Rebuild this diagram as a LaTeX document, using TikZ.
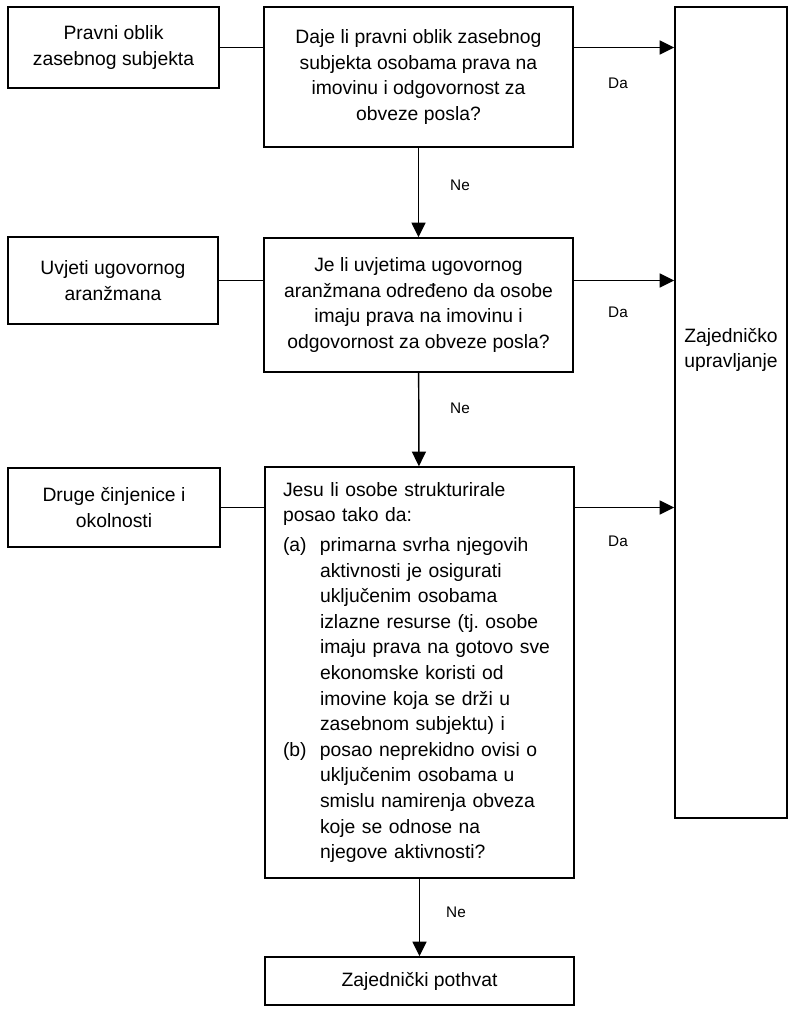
\documentclass[tikz,border=0pt]{standalone}
\usepackage{fontspec}
\setmainfont{Liberation Sans}
\usetikzlibrary{arrows.meta}
\newlength\hang
\setlength\hang{27.75pt}
\begin{document}
\begin{tikzpicture}[x=0.75pt, y=-0.75pt, >={Triangle[length=11pt,width=10.5pt]}, line width=1.1pt,
	box/.style={draw, align=center, inner sep=0pt, font=\fontsize{14.5}{19.2}\selectfont},
	lab/.style={font=\fontsize{11.5}{14}\selectfont}]
	\useasboundingbox (0,0) rectangle (796,1016);
	
	% ulazni okviri (lijevo)
	\node[box, minimum width=158.25pt, minimum height=60.75pt] (L1) at (113.5,47.5) {Pravni oblik\\zasebnog subjekta};
	\node[box, minimum width=157.5pt, minimum height=65.25pt] (L2) at (113,280.5) {Uvjeti ugovornog\\aranžmana};
	\node[box, minimum width=159pt, minimum height=59.25pt] (L3) at (114,507.5) {Druge činjenice i\\okolnosti};
	
	% pitanja (sredina)
	\node[box, minimum width=231.75pt, minimum height=105pt] (Q1) at (418.5,77) {Daje li pravni oblik zasebnog\\subjekta osobama prava na\\imovinu i odgovornost za\\obveze posla?};
	\node[box, minimum width=231.75pt, minimum height=100.5pt] (Q2) at (418.5,305) {Je li uvjetima ugovornog\\aranžmana određeno da osobe\\imaju prava na imovinu i\\odgovornost za obveze posla?};
	\node[box, align=left, inner xsep=13.5pt, text width=204.75pt, minimum height=308.25pt] (Q3) at (419.5,672.5) {Jesu li osobe strukturirale\\posao tako da:\\[3pt]
		\makebox[\hang][l]{(a)}primarna svrha njegovih\\
		\hspace*{\hang}aktivnosti je osigurati\\
		\hspace*{\hang}uključenim osobama\\
		\hspace*{\hang}izlazne resurse (tj.\ osobe\\
		\hspace*{\hang}imaju prava na gotovo sve\\
		\hspace*{\hang}ekonomske koristi od\\
		\hspace*{\hang}imovine koja se drži u\\
		\hspace*{\hang}zasebnom subjektu) i\\
		\makebox[\hang][l]{(b)}posao neprekidno ovisi o\\
		\hspace*{\hang}uključenim osobama u\\
		\hspace*{\hang}smislu namirenja obveza\\
		\hspace*{\hang}koje se odnose na\\
		\hspace*{\hang}njegove aktivnosti?};
	
	% ishodi
	\node[box, minimum width=231.75pt, minimum height=36pt] (B) at (419.5,981) {Zajednički pothvat};
	\node[box, minimum width=84pt, minimum height=608.25pt] (R) at (731,412.5) {};
	\node[box, draw=none] (Rtxt) at (731,350) {Zajedničko\\upravljanje};
	
	% veze lijevo
	\draw (L1.east) -- (L1.east -| Q1.west);
	\draw (L2.east) -- (L2.east -| Q2.west);
	\draw (L3.east) -- (L3.east -| Q3.west);
	
	% Da
	\draw[->] (L1.east -| Q1.east) -- (L1.east -| R.west);
	\draw[->] (L2.east -| Q2.east) -- (L2.east -| R.west);
	\draw[->] (L3.east -| Q3.east) -- (L3.east -| R.west);
	\node[lab] (da1) at (618,83) {Da};
	\node[lab] (da2) at (618,312) {Da};
	\node[lab] (da3) at (618,541) {Da};
	
	% Ne
	\draw[->] (Q1) -- (Q2);
	\draw[->] (Q2) -- (Q3);
	\draw[->] (Q3) -- (B);
	\node[lab] (ne1) at (460,185) {Ne};
	\node[lab] (ne2) at (460,408) {Ne};
	\node[lab] (ne3) at (456,912) {Ne};
\end{tikzpicture}
\end{document}
